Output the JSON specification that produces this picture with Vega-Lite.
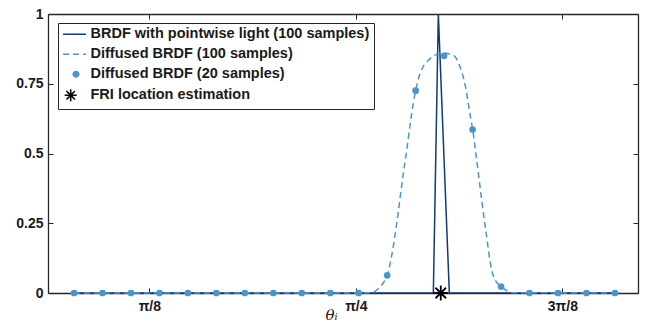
{
  "$schema": "https://vega.github.io/schema/vega-lite/v6.json",
  "width": 590,
  "height": 279,
  "autosize": "none",
  "padding": {"left": 48, "top": 14, "right": 8, "bottom": 33},
  "background": "white",
  "datasets": {
    "pointwise": [
      {"series": "BRDF with pointwise light (100 samples)", "theta": 0.2495, "value": 0},
      {"series": "BRDF with pointwise light (100 samples)", "theta": 0.9328, "value": 0},
      {"series": "BRDF with pointwise light (100 samples)", "theta": 0.9423, "value": 1},
      {"series": "BRDF with pointwise light (100 samples)", "theta": 0.9632, "value": 0},
      {"series": "BRDF with pointwise light (100 samples)", "theta": 1.2782, "value": 0}
    ],
    "diffused100": [
      {"series": "Diffused BRDF (100 samples)", "theta": 0.2495, "value": 0},
      {"series": "Diffused BRDF (100 samples)", "theta": 0.7934, "value": 0},
      {"series": "Diffused BRDF (100 samples)", "theta": 0.8162, "value": 0.001},
      {"series": "Diffused BRDF (100 samples)", "theta": 0.8282, "value": 0.016},
      {"series": "Diffused BRDF (100 samples)", "theta": 0.8371, "value": 0.035},
      {"series": "Diffused BRDF (100 samples)", "theta": 0.8453, "value": 0.064},
      {"series": "Diffused BRDF (100 samples)", "theta": 0.8537, "value": 0.135},
      {"series": "Diffused BRDF (100 samples)", "theta": 0.8619, "value": 0.232},
      {"series": "Diffused BRDF (100 samples)", "theta": 0.8695, "value": 0.340},
      {"series": "Diffused BRDF (100 samples)", "theta": 0.8761, "value": 0.433},
      {"series": "Diffused BRDF (100 samples)", "theta": 0.8822, "value": 0.512},
      {"series": "Diffused BRDF (100 samples)", "theta": 0.8885, "value": 0.602},
      {"series": "Diffused BRDF (100 samples)", "theta": 0.8948, "value": 0.681},
      {"series": "Diffused BRDF (100 samples)", "theta": 0.8993, "value": 0.725},
      {"series": "Diffused BRDF (100 samples)", "theta": 0.9075, "value": 0.787},
      {"series": "Diffused BRDF (100 samples)", "theta": 0.9151, "value": 0.817},
      {"series": "Diffused BRDF (100 samples)", "theta": 0.9233, "value": 0.834},
      {"series": "Diffused BRDF (100 samples)", "theta": 0.9322, "value": 0.849},
      {"series": "Diffused BRDF (100 samples)", "theta": 0.9417, "value": 0.856},
      {"series": "Diffused BRDF (100 samples)", "theta": 0.9518, "value": 0.859},
      {"series": "Diffused BRDF (100 samples)", "theta": 0.9607, "value": 0.858},
      {"series": "Diffused BRDF (100 samples)", "theta": 0.9684, "value": 0.853},
      {"series": "Diffused BRDF (100 samples)", "theta": 0.9741, "value": 0.847},
      {"series": "Diffused BRDF (100 samples)", "theta": 0.9798, "value": 0.828},
      {"series": "Diffused BRDF (100 samples)", "theta": 0.9868, "value": 0.793},
      {"series": "Diffused BRDF (100 samples)", "theta": 0.9921, "value": 0.756},
      {"series": "Diffused BRDF (100 samples)", "theta": 0.9963, "value": 0.715},
      {"series": "Diffused BRDF (100 samples)", "theta": 0.9994, "value": 0.677},
      {"series": "Diffused BRDF (100 samples)", "theta": 1.0035, "value": 0.630},
      {"series": "Diffused BRDF (100 samples)", "theta": 1.0077, "value": 0.585},
      {"series": "Diffused BRDF (100 samples)", "theta": 1.0153, "value": 0.476},
      {"series": "Diffused BRDF (100 samples)", "theta": 1.0248, "value": 0.333},
      {"series": "Diffused BRDF (100 samples)", "theta": 1.0330, "value": 0.218},
      {"series": "Diffused BRDF (100 samples)", "theta": 1.0438, "value": 0.081},
      {"series": "Diffused BRDF (100 samples)", "theta": 1.0520, "value": 0.042},
      {"series": "Diffused BRDF (100 samples)", "theta": 1.0615, "value": 0.024},
      {"series": "Diffused BRDF (100 samples)", "theta": 1.0710, "value": 0.010},
      {"series": "Diffused BRDF (100 samples)", "theta": 1.0825, "value": 0.001},
      {"series": "Diffused BRDF (100 samples)", "theta": 1.2782, "value": 0}
    ],
    "diffused20": [
      {"series": "Diffused BRDF (20 samples)", "theta": 0.2495, "value": 0},
      {"series": "Diffused BRDF (20 samples)", "theta": 0.3036, "value": 0},
      {"series": "Diffused BRDF (20 samples)", "theta": 0.3578, "value": 0},
      {"series": "Diffused BRDF (20 samples)", "theta": 0.4119, "value": 0},
      {"series": "Diffused BRDF (20 samples)", "theta": 0.4661, "value": 0},
      {"series": "Diffused BRDF (20 samples)", "theta": 0.5202, "value": 0},
      {"series": "Diffused BRDF (20 samples)", "theta": 0.5743, "value": 0},
      {"series": "Diffused BRDF (20 samples)", "theta": 0.6285, "value": 0},
      {"series": "Diffused BRDF (20 samples)", "theta": 0.6826, "value": 0},
      {"series": "Diffused BRDF (20 samples)", "theta": 0.7368, "value": 0},
      {"series": "Diffused BRDF (20 samples)", "theta": 0.7909, "value": 0},
      {"series": "Diffused BRDF (20 samples)", "theta": 0.8450, "value": 0.0635},
      {"series": "Diffused BRDF (20 samples)", "theta": 0.8992, "value": 0.725},
      {"series": "Diffused BRDF (20 samples)", "theta": 0.9533, "value": 0.850},
      {"series": "Diffused BRDF (20 samples)", "theta": 1.0075, "value": 0.586},
      {"series": "Diffused BRDF (20 samples)", "theta": 1.0616, "value": 0.023},
      {"series": "Diffused BRDF (20 samples)", "theta": 1.1157, "value": 0},
      {"series": "Diffused BRDF (20 samples)", "theta": 1.1699, "value": 0},
      {"series": "Diffused BRDF (20 samples)", "theta": 1.2240, "value": 0},
      {"series": "Diffused BRDF (20 samples)", "theta": 1.2782, "value": 0}
    ],
    "fri": [
      {"series": "FRI location estimation", "theta": 0.9469, "value": 0}
    ]
  },
  "config": {
    "view": {"stroke": null},
    "axis": {
      "grid": false,
      "domainColor": "#262626",
      "domainWidth": 1.3,
      "tickColor": "#262626",
      "tickWidth": 1,
      "tickSize": -5,
      "labelFont": "Liberation Sans",
      "labelFontSize": 14,
      "labelFontWeight": "bold",
      "labelColor": "#1a1a1a",
      "zindex": 1
    }
  },
  "layer": [
    {
      "data": {"name": "pointwise"},
      "mark": {"type": "line", "strokeWidth": 1.5},
      "encoding": {
        "x": {
          "field": "theta", "type": "quantitative",
          "scale": {"domain": [0.2, 1.322], "nice": false, "zero": false},
          "axis": {
            "orient": "bottom",
            "values": [0.3927, 0.7854, 1.1781],
            "labelExpr": "datum.value < 0.5 ? 'π/8' : datum.value < 1 ? 'π/4' : '3π/8'",
            "labelPadding": 11,
            "title": "θᵢ",
            "titleFont": "DejaVu Serif",
            "titleFontStyle": "italic",
            "titleFontWeight": "normal",
            "titleFontSize": 15,
            "titleColor": "#1a1a1a",
            "titleX": 283,
            "titleY": 26,
            "titleAlign": "center",
            "titleBaseline": "alphabetic"
          }
        },
        "y": {
          "field": "value", "type": "quantitative",
          "scale": {"domain": [0, 1], "nice": false},
          "axis": {"orient": "left", "values": [0, 0.25, 0.5, 0.75, 1], "labelExpr": "toString(datum.value)", "labelPadding": 10, "title": null}
        },
        "color": {
          "field": "series", "type": "nominal",
          "scale": {
            "domain": ["BRDF with pointwise light (100 samples)", "Diffused BRDF (100 samples)", "Diffused BRDF (20 samples)", "FRI location estimation"],
            "range": ["#0e3a7a", "#4b95cd", "#4b95cd", "#000000"]
          },
          "legend": {
            "orient": "none",
            "legendX": 10,
            "legendY": 9,
            "title": null,
            "strokeColor": "#262626",
            "fillColor": "white",
            "padding": 4,
            "labelFont": "Liberation Sans",
            "labelFontSize": 14.5,
            "labelFontWeight": "bold",
            "labelColor": "#1a1a1a",
            "labelLimit": 0,
            "symbolSize": 144,
            "symbolStrokeWidth": 1.5,
            "rowPadding": 5,
            "labelOffset": 14,
            "encode": {
              "legend": {
                "update": {"width": {"value": 317}}
              },
              "symbols": {
                "update": {
                  "shape": {"signal": "datum.value == 'Diffused BRDF (20 samples)' ? 'M0.542,0A0.583,0.583,0,1,1,1.708,0A0.583,0.583,0,1,1,0.542,0Z' : datum.value == 'FRI location estimation' ? 'M-0.76,0L1.24,0M0.24,-1L0.24,1M-0.47,-0.71L0.95,0.71M-0.47,0.71L0.95,-0.71' : 'M-1.04,0L2.79,0'"},
                  "stroke": {"signal": "datum.value == 'BRDF with pointwise light (100 samples)' ? '#0e3a7a' : datum.value == 'FRI location estimation' ? '#000000' : '#4b95cd'"},
                  "fill": {"signal": "datum.value == 'Diffused BRDF (20 samples)' ? '#4b95cd' : 'transparent'"},
                  "strokeDash": {"signal": "datum.value == 'Diffused BRDF (100 samples)' ? [6, 4] : [1, 0]"},
                  "strokeWidth": {"signal": "datum.value == 'Diffused BRDF (20 samples)' ? 0 : 1.5"},
                  "size": {"value": 144},
                  "opacity": {"value": 1}
                }
              }
            }
          }
        }
      }
    },
    {
      "data": {"name": "diffused100"},
      "mark": {"type": "line", "strokeWidth": 1.5, "strokeDash": [6, 4], "interpolate": "monotone"},
      "encoding": {
        "x": {"field": "theta", "type": "quantitative", "axis": {"orient": "top", "values": [0.3927, 0.7854, 1.1781], "labels": false, "title": null}},
        "y": {"field": "value", "type": "quantitative", "axis": {"orient": "right", "values": [0, 0.25, 0.5, 0.75, 1], "labels": false, "title": null}},
        "color": {"field": "series", "type": "nominal"}
      }
    },
    {
      "data": {"name": "diffused20"},
      "mark": {"type": "circle", "size": 45, "opacity": 1},
      "encoding": {
        "x": {"field": "theta", "type": "quantitative", "axis": null},
        "y": {"field": "value", "type": "quantitative", "axis": null},
        "color": {"field": "series", "type": "nominal"}
      }
    },
    {
      "data": {"name": "fri"},
      "mark": {"type": "point", "shape": "M-1,0L1,0M0,-1L0,1M-0.7,-0.7L0.7,0.7M-0.7,0.7L0.7,-0.7", "size": 225, "filled": false, "strokeWidth": 1.8, "opacity": 1},
      "encoding": {
        "x": {"field": "theta", "type": "quantitative", "axis": null},
        "y": {"field": "value", "type": "quantitative", "axis": null},
        "color": {"field": "series", "type": "nominal"}
      }
    }
  ]
}
